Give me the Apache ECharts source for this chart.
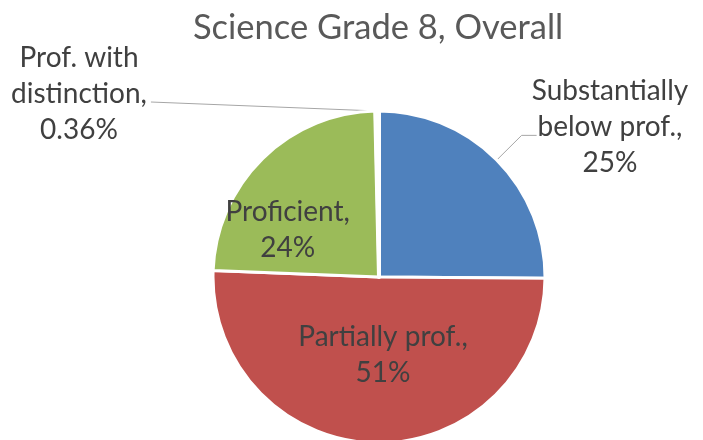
<!DOCTYPE html>
<html>
<head>
<meta charset="utf-8">
<script src="https://cdn.jsdelivr.net/npm/echarts@6/dist/echarts.min.js"></script>
<style>
  html, body { margin: 0; padding: 0; background: #fff; }
  #chart { width: 703px; height: 440px; }
</style>
</head>
<body>
<div id="chart"></div>
<script>
const chartTitle = 'Science Grade 8, Overall'
const categories = ['Substantially\nbelow prof.', 'Partially prof.', 'Proficient', 'Prof. with\ndistinction']
const seriesValues = [25.1, 50.5, 24.0, 0.36]
const sliceColors = ['#4F81BD', '#C0504D', '#9BBB59', '#8064A2']

const textFont = 'Lato'
const textColor = '#404040'

// label placement: outside labels get absolute spots, inside ones a nudge
const labelSpots = [
  { x: 610, y: 127 },
  { dx: 6, dy: -8 },
  { dx: -31, dy: 14 },
  { x: 79, y: 94 }
]

function fmtPct(v) {
  return v < 1 ? v.toFixed(2) + '%' : Math.round(v) + '%'
}

const chart = echarts.init(document.getElementById('chart'))

chart.setOption({
  animation: false,
  title: {
    text: chartTitle,
    left: 188,
    top: 5,
    textStyle: {
      fontFamily: textFont,
      fontWeight: 'normal',
      fontSize: 34.5,
      color: '#595959'
    }
  },
  series: [{
    type: 'pie',
    center: [379, 277],
    radius: 166,
    startAngle: 90,
    clockwise: true,
    avoidLabelOverlap: false,
    itemStyle: {
      borderColor: '#fff',
      borderWidth: 3
    },
    label: {
      fontFamily: textFont,
      fontSize: 28,
      lineHeight: 36,
      color: textColor,
      align: 'center',
      formatter: p => p.name + ',\n' + fmtPct(p.value)
    },
    labelLine: {
      length: 35,
      length2: 15,
      lineStyle: { color: '#a6a6a6', width: 1 }
    },
    labelLayout: function (p) {
      const spot = labelSpots[p.dataIndex]
      if (spot.x == null) {
        return { dx: spot.dx, dy: spot.dy }
      }
      const pts = p.labelLinePoints
      if (p.dataIndex === 3) {
        const end = [spot.x + p.labelRect.width / 2 + 4, spot.y + 8]
        return {
          x: spot.x, y: spot.y, align: 'center', verticalAlign: 'middle',
          labelLinePoints: [pts[0], end, end]
        }
      }
      return { x: spot.x, y: spot.y, align: 'center', verticalAlign: 'middle', labelLinePoints: pts }
    },
    data: categories.map((name, i) => ({
      name: name,
      value: seriesValues[i],
      itemStyle: { color: sliceColors[i], borderWidth: i === 3 ? 4 : 3 },
      label: { position: (i === 1 || i === 2) ? 'inside' : 'outside' },
      labelLine: { show: i === 0 || i === 3 }
    }))
  }]
})
</script>
</body>
</html>
